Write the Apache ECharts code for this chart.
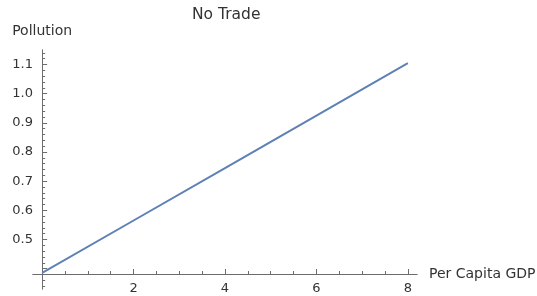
<!DOCTYPE html>
<html>
<head>
<meta charset="utf-8">
<script src="https://cdn.jsdelivr.net/npm/echarts@6/dist/echarts.min.js"></script>
<style>
html, body { margin: 0; padding: 0; background: #fff; }
#main { width: 537px; height: 296px; }
</style>
</head>
<body>
<div id="main"></div>
<script>
var myChart = echarts.init(document.getElementById('main'));

// per capita GDP vs pollution, no trade case
var gdp = [0, 2, 4, 6, 8];
var pollution = [0.385, 0.565, 0.745, 0.925, 1.105];

// tick marks
var xMajor = [2, 4, 6, 8];
var yMajor = [0.4, 0.5, 0.6, 0.7, 0.8, 0.9, 1.0, 1.1];
var yLabels = [0.5, 0.6, 0.7, 0.8, 0.9, 1.0, 1.1];

var xMinor = [];
for (var i = 1; i <= 16; i++) {
	if (i % 4 != 0) xMinor.push(i * 0.5);
}
var yMinor = [];
for (var j = 17; j <= 57; j++) {
	if (j % 5 != 0) yMinor.push(+(j * 0.02).toFixed(2));
}

var axisColor = '#6d6d6d';
var textColor = '#333';
var font = 'DejaVu Sans';

var xBase = {
	type: 'value',
	min: -0.2,
	max: 8.2,
	position: 'bottom',
	offset: -15,
	splitLine: { show: false },
	axisLine: { onZero: false, lineStyle: { color: axisColor, width: 1 } }
};
var yBase = {
	type: 'value',
	min: 0.33,
	max: 1.15,
	position: 'left',
	splitLine: { show: false },
	axisLine: { onZero: true, lineStyle: { color: axisColor, width: 1 } }
};

var option = {
	backgroundColor: '#fff',
	animation: false,
	title: {
		text: 'No Trade',
		left: 187,
		top: 2,
		textStyle: { fontFamily: font, fontSize: 15.5, fontWeight: 'normal', color: textColor }
	},
	grid: {
		left: 33,
		right: 120,
		top: 50,
		bottom: 7,
		containLabel: false,
		outerBoundsMode: 'none'
	},
	xAxis: [
		Object.assign({}, xBase, {
			name: 'Per Capita GDP',
			nameLocation: 'end',
			nameGap: 12,
			nameTextStyle: { fontFamily: font, fontSize: 14, color: textColor },
			axisTick: { inside: true, length: 5, customValues: xMajor, lineStyle: { color: axisColor } },
			axisLabel: {
				customValues: xMajor,
				margin: 8,
				fontFamily: font, fontSize: 13, color: textColor
			}
		}),
		Object.assign({}, xBase, {
			axisTick: { inside: true, length: 3, customValues: xMinor, lineStyle: { color: axisColor } },
			axisLabel: { show: false }
		})
	],
	yAxis: [
		Object.assign({}, yBase, {
			name: 'Pollution',
			nameLocation: 'end',
			nameGap: 12,
			nameTextStyle: { fontFamily: font, fontSize: 14, color: textColor, align: 'center' },
			axisTick: { inside: true, length: 5, customValues: yMajor, lineStyle: { color: axisColor } },
			axisLabel: {
				customValues: yLabels,
				margin: 0,
				fontFamily: font, fontSize: 13, color: textColor,
				formatter: function (v) { return v.toFixed(1); }
			}
		}),
		Object.assign({}, yBase, {
			axisTick: { inside: true, length: 3, customValues: yMinor, lineStyle: { color: axisColor } },
			axisLabel: { show: false }
		})
	],
	series: [{
		type: 'line',
		xAxisIndex: 0,
		yAxisIndex: 0,
		data: gdp.map(function (g, k) { return [g, pollution[k]]; }),
		showSymbol: false,
		symbolSize: 0,
		lineStyle: { color: '#5e81b5', width: 2 }
	}]
};

myChart.setOption(option);
</script>
</body>
</html>
